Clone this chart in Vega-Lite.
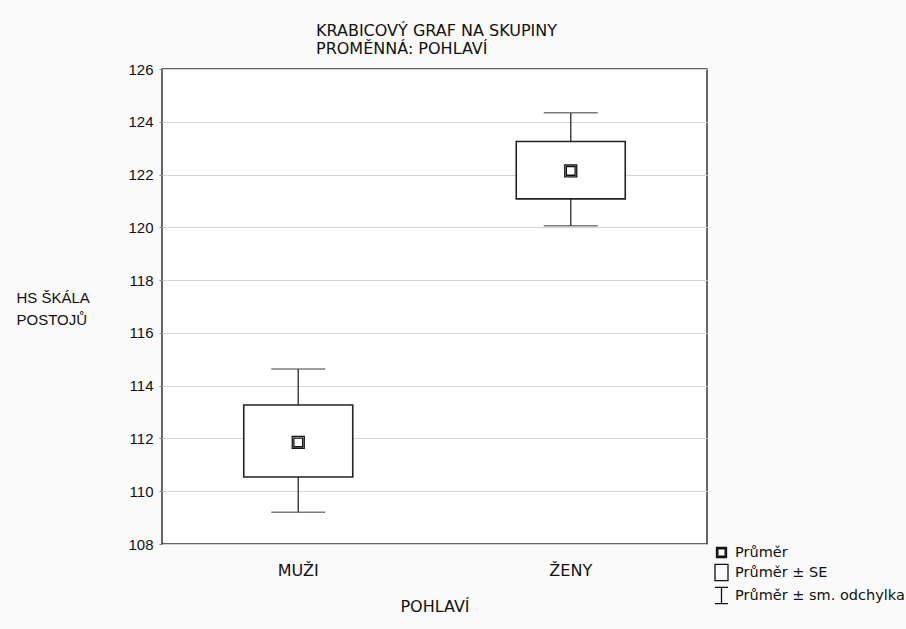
{
  "$schema": "https://vega.github.io/schema/vega-lite/v6.json",
  "width": 545,
  "height": 475,
  "autosize": {"type": "none"},
  "padding": {"left": 162, "top": 69, "right": 199, "bottom": 85},
  "background": "#fafafa",
  "config": {
    "font": "Liberation Sans",
    "view": {"fill": "white", "stroke": "#333333", "strokeWidth": 1.5}
  },
  "title": {
    "text": ["KRABICOVÝ GRAF NA SKUPINY", "PROMĚNNÁ: POHLAVÍ"],
    "anchor": "start",
    "frame": "group",
    "dx": 154,
    "offset": 5,
    "font": "DejaVu Sans",
    "fontSize": 16,
    "fontWeight": "normal",
    "lineHeight": 18,
    "color": "#111111"
  },
  "data": {
    "values": [
      {"skupina": "MUŽI", "prumer": 111.85, "se_lo": 110.54, "se_hi": 113.27, "sd_lo": 109.2, "sd_hi": 114.63},
      {"skupina": "ŽENY", "prumer": 122.14, "se_lo": 121.08, "se_hi": 123.25, "sd_lo": 120.06, "sd_hi": 124.34}
    ]
  },
  "encoding": {
    "x": {
      "field": "skupina",
      "type": "nominal",
      "sort": ["MUŽI", "ŽENY"],
      "scale": {"paddingInner": 0, "paddingOuter": 0},
      "axis": {
        "title": "POHLAVÍ",
        "titleFont": "DejaVu Sans",
        "titleFontSize": 16,
        "titleFontWeight": "normal",
        "titleColor": "#111111",
        "titlePadding": 20,
        "labelAngle": 0,
        "labelFont": "DejaVu Sans",
        "labelFontSize": 16,
        "labelColor": "#111111",
        "labelPadding": 18,
        "domain": false,
        "ticks": false
      }
    }
  },
  "layer": [
    {
      "mark": {"type": "rule", "color": "#444444", "strokeWidth": 1.5},
      "encoding": {
        "y": {
          "field": "sd_lo",
          "type": "quantitative",
          "scale": {"domain": [108, 126], "nice": false, "zero": false},
          "axis": {
            "title": ["HS ŠKÁLA", "POSTOJŮ"],
            "titleAngle": 0,
            "titleAlign": "left",
            "titleBaseline": "middle",
            "titleX": -146,
            "titleY": 228,
            "titleFontSize": 15,
            "titleFontWeight": "normal",
            "titleColor": "#111111",
            "titleLineHeight": 22,
            "values": [108, 110, 112, 114, 116, 118, 120, 122, 124, 126],
            "labelFontSize": 15,
            "labelColor": "#111111",
            "labelPadding": 6,
            "tickSize": 3,
            "tickColor": "#888888",
            "domain": false,
            "grid": true,
            "gridColor": "#d4d4d4",
            "gridWidth": 1.2
          }
        },
        "y2": {"field": "sd_hi"}
      }
    },
    {
      "mark": {"type": "tick", "color": "#444444", "thickness": 1.5, "size": 54, "orient": "horizontal"},
      "encoding": {"y": {"field": "sd_lo", "type": "quantitative"}}
    },
    {
      "mark": {"type": "tick", "color": "#444444", "thickness": 1.5, "size": 54, "orient": "horizontal"},
      "encoding": {"y": {"field": "sd_hi", "type": "quantitative"}}
    },
    {
      "mark": {"type": "bar", "fill": "white", "stroke": "#222222", "strokeWidth": 1.6, "width": {"band": 0.4}},
      "encoding": {
        "y": {"field": "se_lo", "type": "quantitative"},
        "y2": {"field": "se_hi"}
      }
    },
    {
      "mark": {"type": "point", "filled": false, "color": "#111111", "strokeWidth": 1.3, "size": 243, "opacity": 1},
      "encoding": {
        "y": {"field": "prumer", "type": "quantitative"},
        "shape": {
          "datum": "Průměr",
          "type": "nominal",
          "scale": {
            "domain": ["Průměr", "Průměr ± SE", "Průměr ± sm. odchylka"],
            "range": [
              "M-0.77,-0.77H0.77V0.77H-0.77Z M-0.56,-0.56H0.56V0.56H-0.56Z",
              "M-1,-1.25H1V1.25H-1Z",
              "M-1,-1.25H1M0,-1.25V1.25M-1,1.25H1"
            ]
          },
          "legend": {
            "title": null,
            "orient": "none",
            "legendX": 552,
            "legendY": 476,
            "symbolSize": 169,
            "symbolStrokeColor": "#111111",
            "symbolStrokeWidth": 1.3,
            "symbolOpacity": 1,
            "labelFont": "DejaVu Sans",
            "labelFontSize": 14.5,
            "labelColor": "#111111",
            "labelOffset": 6,
            "labelLimit": 300,
            "rowPadding": 0
          }
        }
      }
    }
  ]
}
